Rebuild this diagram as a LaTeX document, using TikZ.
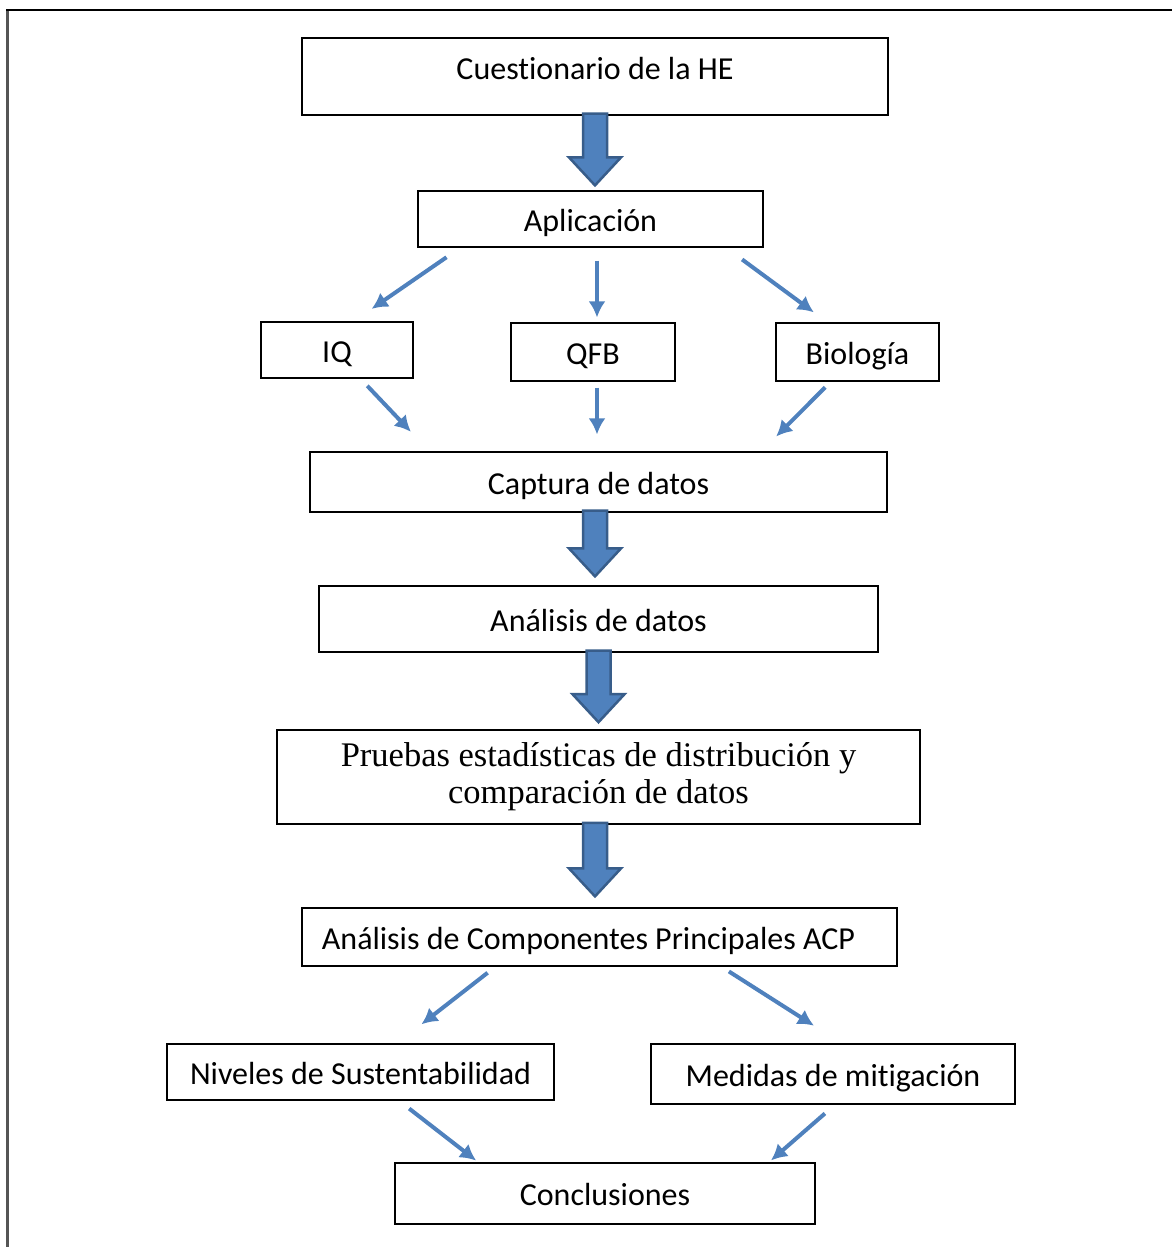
\documentclass[tikz,border=0pt]{standalone}
\usepackage{fontspec}
\setmainfont{Carlito}[Ligatures=NoCommon]
\newfontfamily\seriffont{Liberation Serif}
\usetikzlibrary{arrows.meta,calc}

\definecolor{officeblue}{RGB}{79,129,189}
\definecolor{officeedge}{RGB}{56,93,138}
\definecolor{framegray}{RGB}{85,85,85}

% thick block arrow pointing down: start anchor, end node anchor, gap above the end
\newcommand{\bigdown}[3]{%
  \draw[blockarrow] let \p1=(#1), \p2=(#2) in
    (\x1-12,\y1+2) -- (\x1+12,\y1+2) -- (\x1+12,\y2+#3+28) -- (\x1+26,\y2+#3+28)
    -- (\x1,\y2+#3) -- (\x1-26,\y2+#3+28) -- (\x1-12,\y2+#3+28) -- cycle;}

\begin{document}
\begin{tikzpicture}[x=1pt,y=1pt,
  box/.style={draw,line width=1.2pt,inner sep=0pt,text height=24pt,text depth=0pt,
    font=\fontsize{32}{38}\selectfont},
  link/.style={draw=officeblue,line width=4pt,-{Latex[length=16pt,width=17pt]}},
  blockarrow/.style={fill=officeblue,draw=officeedge,line width=2.5pt,line join=miter}]
  \useasboundingbox (0,0) rectangle (1172,-1247);
  % frame
  \draw[framegray,line width=3pt] (7.5,-1247) -- (7.5,-10);
  \draw[line width=2pt] (6,-10) -- (1172,-10);

  \node[box,minimum width=586,minimum height=77,text depth=19pt] (cues) at (595,-76.5) {Cuestionario de la HE};
  \node[box,minimum width=345,minimum height=56] (apl) at (590.5,-219) {Aplicación};
  \node[box,minimum width=152,minimum height=56] (iq) at (337,-350) {IQ};
  \node[box,minimum width=164,minimum height=58] (qfb) at (593,-352) {QFB};
  \node[box,minimum width=163,minimum height=58] (bio) at (857.5,-352) {Biología};
  \node[box,minimum width=577,minimum height=60] (cap) at (598.5,-482) {Captura de datos};
  \node[box,minimum width=559,minimum height=66] (ana) at (598.5,-619) {Análisis de datos};
  \node[box,line width=1.6pt,minimum width=643,minimum height=94,align=center,text height=,text depth=,
        font=\seriffont\fontsize{34.5}{37}\selectfont] (pru) at (598.5,-777)
        {Pruebas estadísticas de distribución y\\comparación de datos};
  \node[box,minimum width=595,minimum height=58] (acp)
        at (599.5,-937) {\hspace*{-22pt}Análisis de Componentes Principales ACP};
  \node[box,minimum width=387,minimum height=56] (niv) at (360.5,-1072) {Niveles de Sustentabilidad};
  \node[box,minimum width=364,minimum height=60] (med) at (833,-1074) {Medidas de mitigación};
  \node[box,minimum width=420,minimum height=61] (conc) at (605,-1193.5) {Conclusiones};

  % block arrows
  \bigdown{cues.south}{apl.north}{5}
  \bigdown{$(cap.south)+(-3.5,0)$}{ana.north}{9}
  \bigdown{ana.south}{pru.north}{7}
  \bigdown{$(pru.south)+(-3.5,0)$}{acp.north}{11}

  % thin arrows
  \draw[link,shorten <=17pt,shorten >=22pt] ([xshift=-130]apl.south) -- ([xshift=16.5]iq.north);
  \draw[link,shorten <=13pt,shorten >=5pt] ([xshift=6.5]apl.south) -- ([xshift=4]qfb.north);
  \draw[link,shorten <=20pt,shorten >=17pt] ([xshift=135.5]apl.south) -- ([xshift=-30]bio.north);
  \draw[link,shorten <=10pt,shorten >=27pt] ([xshift=23.4]iq.south) -- ([xshift=-169]cap.north);
  \draw[link,shorten <=6pt,shorten >=17pt] ([xshift=4]qfb.south) -- ([xshift=-1.5]cap.north);
  \draw[link,shorten <=8pt,shorten >=21pt] ([xshift=-26.6]bio.south) -- ([xshift=162.8]cap.north);
  \draw[link,shorten <=10pt,shorten >=31pt] ([xshift=-104]acp.south) -- ([xshift=36.5]niv.north);
  \draw[link,shorten <=9pt,shorten >=33pt] ([xshift=121.8]acp.south) -- ([xshift=8.8]med.north);
  \draw[link,shorten <=13pt,shorten >=3pt] ([xshift=38.4]niv.south) -- ([xshift=-126.5]conc.north);
  \draw[link,shorten <=13.5pt,shorten >=3pt] ([xshift=2.1]med.south) -- ([xshift=163.75]conc.north);
\end{tikzpicture}
\end{document}
